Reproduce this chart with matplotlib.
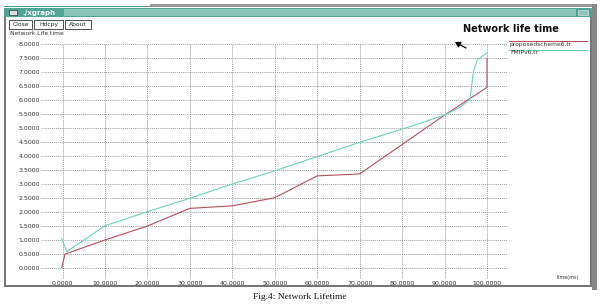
import matplotlib
matplotlib.use("Agg")
import matplotlib.pyplot as plt
from matplotlib.patches import Rectangle, FancyArrowPatch
import numpy as np

# ---- data ----
x_prop = [-0.2, 0.6, 10, 20, 30, 40, 50, 60, 70, 80, 90, 100, 100]
y_prop = [0.0, 0.5, 1.0, 1.5, 2.13, 2.22, 2.51, 3.29, 3.36, 4.41, 5.46, 6.45, 7.49]
x_fmip = [-0.2, 1.0, 10, 20, 30, 40, 50, 60, 70, 80, 90, 93.6, 96, 96.8, 97.7, 100]
y_fmip = [1.06, 0.58, 1.51, 2.01, 2.49, 3.0, 3.47, 3.98, 4.49, 4.96, 5.46, 5.74, 6.02, 7.01, 7.43, 7.69]
x_ticks = [0, 10, 20, 30, 40, 50, 60, 70, 80, 90, 100]
y_ticks = [0.0, 0.5, 1.0, 1.5, 2.0, 2.5, 3.0, 3.5, 4.0, 4.5, 5.0, 5.5, 6.0, 6.5, 7.0, 7.5, 8.0]
series_names = ["proposedscheme6.tr", "FMIPv6.tr"]

W, H = 600, 304
fig = plt.figure(figsize=(W / 100, H / 100), dpi=100)
fig.patch.set_facecolor("white")

def fx(px):
    return px / W

def fy(py):
    return 1 - py / H

def rect(x0, y0, x1, y1, **kw):
    kw.setdefault("zorder", -5)
    fig.patches.append(Rectangle((fx(x0), fy(y1)), fx(x1) - fx(x0), fy(y0) - fy(y1),
                                 transform=fig.transFigure, **kw))

# ---- window chrome ----
rect(150, 4, 592, 7, facecolor="#9a9a9a", edgecolor="none", hatch="xxxx", linewidth=0)
rect(4, 6, 150, 7, facecolor="#4a9d8c", edgecolor="none")
rect(4, 8, 592, 17, facecolor="#4fa594", edgecolor="none")
rect(64, 9, 576, 16, facecolor="#8cc6b9", edgecolor="none")
rect(9, 10, 17, 15, facecolor="#dddddd", edgecolor="#333333", linewidth=0.5)
rect(578, 10, 588, 15, facecolor="#8cc6b9", edgecolor="#dddddd", linewidth=0.5)
fig.text(fx(22), fy(12.5), "./xgraph", color="white", fontsize=5, va="center", ha="left", weight="bold")
rect(4, 17, 6, 287, facecolor="#777777", edgecolor="none")
rect(590, 17, 592, 287, facecolor="#777777", edgecolor="none")
rect(4, 285, 592, 287, facecolor="#777777", edgecolor="none")
rect(592, 4, 597, 290, facecolor="#888888", edgecolor="none", hatch="xxxx", linewidth=0)

for (x0, x1, lab) in [(9, 32, "Close"), (34, 63, "Hdcpy"), (65, 91, "About")]:
    rect(x0, 20, x1, 29, facecolor="white", edgecolor="#333333", linewidth=0.6)
    fig.text(fx((x0 + x1) / 2), fy(24.8), lab, fontsize=4.3, ha="center", va="center", color="#222222")

fig.text(fx(10), fy(33.5), "Network Life time", fontsize=4.3, ha="left", va="center", color="#333333")
fig.text(fx(463), fy(29), "Network life time", fontsize=7, ha="left", va="center",
         color="#111111", weight="bold", family="DejaVu Sans")

# ---- plot area ----
xmin, xmax = -5, 105
ymin, ymax = -0.4, 8.0
px_l = 62.5 + xmin * 4.245
px_r = 62.5 + xmax * 4.245
py_t = 268 - ymax * 28
py_b = 268 - ymin * 28
ax = fig.add_axes([fx(px_l), fy(py_b), fx(px_r) - fx(px_l), fy(py_t) - fy(py_b)])
ax.set_xlim(xmin, xmax)
ax.set_ylim(ymin, ymax)
for s in ax.spines.values():
    s.set_visible(False)
ax.set_facecolor("none")

for xv in x_ticks:
    ax.axvline(xv, color="#777777", lw=0.5, ls=(0, (1.5, 1.5)), zorder=1)
for yv in y_ticks:
    ax.axhline(yv, color="#777777", lw=0.5, ls=(0, (1.5, 1.5)), zorder=1)

red = "#b4505c"
teal = "#6fd1b6"
ax.plot(x_prop, y_prop, color=red, lw=0.8, zorder=3)
ax.plot(x_fmip, y_fmip, color=teal, lw=0.8, zorder=3)

ax.set_xticks(x_ticks)
ax.set_yticks(y_ticks)
ax.set_xticklabels(["%.4f" % v for v in x_ticks])
ax.set_yticklabels(["%.4f" % v for v in y_ticks])
ax.tick_params(axis="both", length=0, labelsize=4.5, labelcolor="#333333")
ax.tick_params(axis="x", pad=1.5)
ax.tick_params(axis="y", pad=1)

# legend (xgraph style)
fig.lines.append(plt.Line2D([fx(509), fx(587)], [fy(41), fy(41)], color=red, lw=0.8, transform=fig.transFigure))
fig.text(fx(510), fy(44.5), series_names[0], fontsize=4.3, ha="left", va="center", color="#333333")
fig.lines.append(plt.Line2D([fx(509), fx(587)], [fy(49.5), fy(49.5)], color=teal, lw=0.8, transform=fig.transFigure))
fig.text(fx(510), fy(53), series_names[1], fontsize=4.3, ha="left", va="center", color="#333333")

fig.text(fx(557), fy(277), "time(ms)", fontsize=3.5, ha="left", va="center", color="#333333")

# mouse cursor
fig.patches.append(FancyArrowPatch((fx(466), fy(48)), (fx(455), fy(42)),
                   transform=fig.transFigure, arrowstyle="-|>,head_length=3,head_width=1.8",
                   shrinkA=0, shrinkB=0, color="black", lw=0.9))

fig.text(0.5, fy(297), "Fig.4: Network Lifetime", fontsize=6.8, ha="center", va="center",
         family="Liberation Serif", color="#111111")

fig.savefig("out.png", dpi=100)
